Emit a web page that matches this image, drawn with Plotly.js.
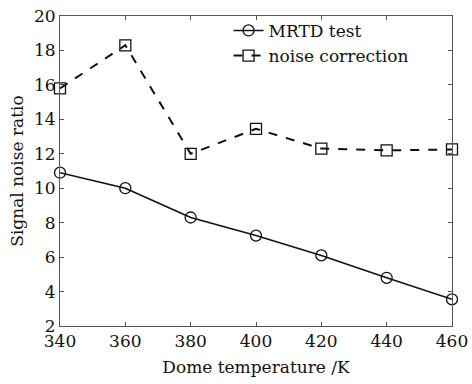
<!DOCTYPE html>
<html><head><meta charset="utf-8">
<script src="https://cdn.plot.ly/plotly-3.0.1.min.js"></script>
<style>html,body{margin:0;padding:0;background:#fff;}#c{width:472px;height:384px;}</style>
</head><body><div id="c"></div>
<script>
const temps = [340, 360, 380, 400, 420, 440, 460];
const mrtdTest = [10.9, 10.0, 8.3, 7.25, 6.1, 4.8, 3.55];
const noiseCorrection = [15.8, 18.3, 12.0, 13.45, 12.3, 12.2, 12.25];
const seriesNames = ['MRTD test', 'noise correction'];
const xTicks = [340, 360, 380, 400, 420, 440, 460];
const yTicks = [2, 4, 6, 8, 10, 12, 14, 16, 18, 20];

const font = {family: 'DejaVu Serif, Liberation Serif, serif', color: '#111', size: 17};
const traces = [
  {x: temps, y: mrtdTest, name: seriesNames[0], mode: 'lines+markers', cliponaxis: false,
   line: {color: '#111', width: 1.6},
   marker: {symbol: 'circle-open', size: 11, color: '#111', line: {width: 1.3}}},
  {x: temps, y: noiseCorrection, name: seriesNames[1], mode: 'lines+markers', cliponaxis: false,
   line: {color: '#111', width: 2, dash: 'dash'},
   marker: {symbol: 'square-open', size: 11, color: '#111', line: {width: 1.3}}}
];
const axisCommon = {showgrid: false, zeroline: false, showline: true, linecolor: '#555', linewidth: 1,
  mirror: 'allticks', ticks: 'inside', ticklen: 4, tickcolor: '#555', tickfont: font};
const layout = {
  width: 472, height: 384,
  margin: {l: 60, r: 20, t: 16, b: 58},
  paper_bgcolor: '#fff', plot_bgcolor: '#fff',
  font: font,
  showlegend: true,
  legend: {x: 0.43, y: 1.01, xanchor: 'left', yanchor: 'top', bgcolor: 'rgba(0,0,0,0)',
    font: {family: font.family, size: 17, color: '#111'}, tracegroupgap: 0, itemwidth: 30},
  xaxis: Object.assign({}, axisCommon, {range: [340, 460], tickvals: xTicks,
    title: {text: 'Dome temperature /K', font: font, standoff: 10}}),
  yaxis: Object.assign({}, axisCommon, {range: [2, 20], tickvals: yTicks,
    title: {text: 'Signal noise ratio', font: font, standoff: 6}})
};
Plotly.newPlot('c', traces, layout, {displayModeBar: false, staticPlot: true});
</script></body></html>
